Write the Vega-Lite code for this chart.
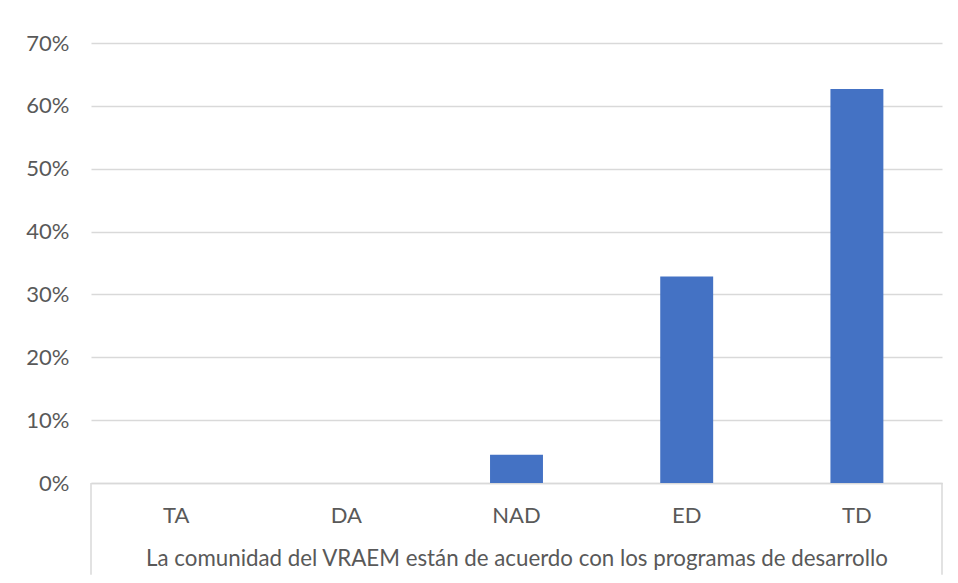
{
  "$schema": "https://vega.github.io/schema/vega-lite/v6.json",
  "width": 851,
  "height": 440,
  "autosize": {"type": "none"},
  "padding": {"left": 91, "top": 43, "right": 16, "bottom": 100},
  "background": "white",
  "config": {
    "font": "Lato",
    "view": {"stroke": null},
    "axis": {"labelFont": "Lato", "titleFont": "Lato", "labelColor": "#595959", "titleColor": "#595959"}
  },
  "layer": [
    {
      "data": {"values": [
        {"cat": "TA", "pct": 0},
        {"cat": "DA", "pct": 0},
        {"cat": "NAD", "pct": 0.0448},
        {"cat": "ED", "pct": 0.3284},
        {"cat": "TD", "pct": 0.6269}
      ]},
      "mark": {"type": "bar", "color": "#4472c4"},
      "encoding": {
        "x": {
          "field": "cat", "type": "nominal", "sort": null,
          "scale": {"paddingInner": 0.689, "paddingOuter": 0.3445},
          "axis": {
            "title": "La comunidad del VRAEM están de acuerdo con los programas de desarrollo",
            "labelAngle": 0, "labelFontSize": 22, "titleFontSize": 22.3, "titleFontWeight": "normal",
            "ticks": false, "domain": true, "domainColor": "#d9d9d9", "domainWidth": 1.5,
            "labelPadding": 22, "titlePadding": 21
          }
        },
        "y": {
          "field": "pct", "type": "quantitative",
          "scale": {"domain": [0, 0.7], "nice": false},
          "axis": {
            "title": null, "format": ".0%", "values": [0, 0.1, 0.2, 0.3, 0.4, 0.5, 0.6, 0.7],
            "labelFontSize": 22, "ticks": false, "domain": false, "labelPadding": 22,
            "gridColor": "#d9d9d9", "gridWidth": 1.5
          }
        }
      }
    },
    {
      "data": {"values": [{"edge": 0}, {"edge": 1}]},
      "mark": {"type": "rule", "color": "#d9d9d9", "strokeWidth": 1.5, "clip": false},
      "encoding": {
        "x": {"field": "edge", "type": "quantitative", "scale": {"domain": [0, 1], "nice": false}, "axis": null},
        "y": {"datum": 0, "type": "quantitative"},
        "y2": {"datum": -0.146}
      }
    }
  ],
  "resolve": {"scale": {"x": "independent"}}
}
